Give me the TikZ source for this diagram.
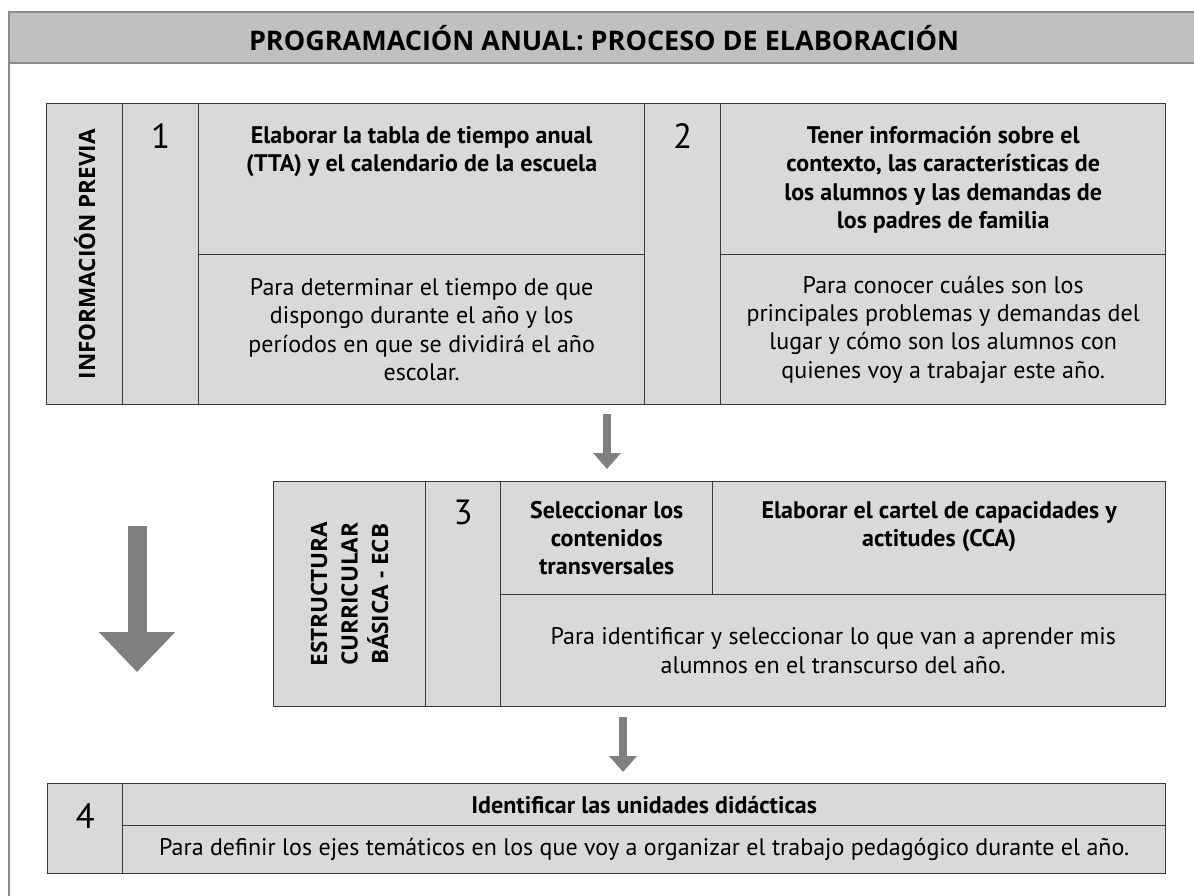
\documentclass[tikz,border=0pt]{standalone}
\usepackage{fontspec}
\setmainfont{PT Sans}
\newfontfamily\widefont{Open Sans}
\usetikzlibrary{arrows.meta, positioning}
\definecolor{framegray}{HTML}{8C8C8C}
\definecolor{headfill}{HTML}{C0C0C0}
\definecolor{cellfill}{HTML}{D9D9D9}
\definecolor{cellline}{HTML}{3A3A3A}
\definecolor{arrowgray}{HTML}{808080}
\tikzset{
	cell/.style={draw=cellline, fill=cellfill, line width=1.4pt, anchor=north west, inner sep=0pt},
	number/.style={inner sep=0pt, font=\fontsize{35}{35}\selectfont},
	boldtext/.style={align=center, inner sep=0pt, font=\bfseries\fontsize{24}{28.3}\selectfont},
	plaintext/.style={align=center, inner sep=0pt, font=\fontsize{24}{28.3}\selectfont},
	sidelabel/.style={rotate=90, align=center, inner sep=0pt, font=\widefont\bfseries\fontsize{22.5}{30.5}\selectfont},
	flow/.style={draw=arrowgray, line width=8pt, -{Triangle[width=27pt, length=16pt]}},
	bigflow/.style={draw=arrowgray, line width=19pt, -{Triangle[width=74pt, length=40pt]}}
}
\begin{document}
\begin{tikzpicture}[x=1pt, y=-1pt]
	\useasboundingbox (0,0) rectangle (1194,896);
	
	% Header band and outer frame
	\fill[headfill] (9,12) rectangle (1200,63);
	\draw[framegray, line width=2.5pt] (1200,12) -- (9,12) -- (9,900);
	\draw[framegray, line width=2.5pt] (9,63) -- (1200,63);
	\node[font=\widefont\bfseries\fontsize{27}{27}\selectfont] (title) at (604,38) {PROGRAMACIÓN ANUAL: PROCESO DE ELABORACIÓN};
	
	% Information block (steps 1 and 2)
	\node[cell, minimum width=76, minimum height=301] (lab1) at (46,103) {};
	\node[cell, minimum width=76, minimum height=301] (num1) at (122,103) {};
	\node[cell, minimum width=446, minimum height=151] (task1) at (198,103) {};
	\node[cell, minimum width=446, minimum height=150] (aim1) at (198,254) {};
	\node[cell, minimum width=76, minimum height=301] (num2) at (644,103) {};
	\node[cell, minimum width=445, minimum height=151] (task2) at (720,103) {};
	\node[cell, minimum width=445, minimum height=150] (aim2) at (720,254) {};
	
	\node[sidelabel] (lab1text) at (lab1.center) {INFORMACIÓN PREVIA};
	\node[number, below=20pt of num1.north] (num1text) {1};
	\node[number, below=20pt of num2.north] (num2text) {2};
	\node[boldtext, below=23pt of task1.north] (task1text) {Elaborar la tabla de tiempo anual\\(TTA) y el calendario de la escuela};
	\node[plaintext] (aim1text) at (aim1.center) {Para determinar el tiempo de que\\dispongo durante el año y los\\períodos en que se dividirá el año\\escolar.};
	\node[boldtext, below=23pt of task2.north] (task2text) {Tener información sobre el\\contexto, las características de\\los alumnos y las demandas de\\los padres de familia};
	\node[plaintext] (aim2text) at (aim2.center) {Para conocer cuáles son los\\principales problemas y demandas del\\lugar y cómo son los alumnos con\\quienes voy a trabajar este año.};
	
	% Curricular block (step 3)
	\node[cell, minimum width=152, minimum height=225] (lab3) at (273,481) {};
	\node[cell, minimum width=75, minimum height=225] (num3) at (425,481) {};
	\node[cell, minimum width=212, minimum height=113] (task3a) at (500,481) {};
	\node[cell, minimum width=453, minimum height=113] (task3b) at (712,481) {};
	\node[cell, minimum width=665, minimum height=112] (aim3) at (500,594) {};
	
	\node[sidelabel] (lab3text) at (lab3.center) {ESTRUCTURA\\CURRICULAR\\BÁSICA - ECB};
	\node[number, below=19pt of num3.north] (num3text) {3};
	\node[boldtext] (task3atext) at (task3a.center) {Seleccionar los\\contenidos\\transversales};
	\node[boldtext, below=20pt of task3b.north] (task3btext) {Elaborar el cartel de capacidades y\\actitudes (CCA)};
	\node[plaintext] (aim3text) at (aim3.center) {Para identificar y seleccionar lo que van a aprender mis\\alumnos en el transcurso del año.};
	
	% Didactic units (step 4)
	\node[cell, minimum width=75, minimum height=90] (num4) at (47,783) {};
	\node[cell, minimum width=1043, minimum height=42] (task4) at (122,783) {};
	\node[cell, minimum width=1043, minimum height=48] (aim4) at (122,825) {};
	
	\node[number, below=20pt of num4.north] (num4text) {4};
	\node[boldtext] (task4text) at (task4.center) {Identificar las unidades didácticas};
	\node[plaintext] (aim4text) at (aim4.center) {Para definir los ejes temáticos en los que voy a organizar el trabajo pedagógico durante el año.};
	
	% Flow arrows
	\coordinate (flow1a) at (607,414);
	\coordinate (flow1b) at (607,469);
	\coordinate (flow2a) at (623,717);
	\coordinate (flow2b) at (623,772);
	\coordinate (mainA) at (137,526);
	\coordinate (mainB) at (137,672);
	\draw[flow] (flow1a) -- (flow1b);
	\draw[flow] (flow2a) -- (flow2b);
	\draw[bigflow] (mainA) -- (mainB);
\end{tikzpicture}
\end{document}
